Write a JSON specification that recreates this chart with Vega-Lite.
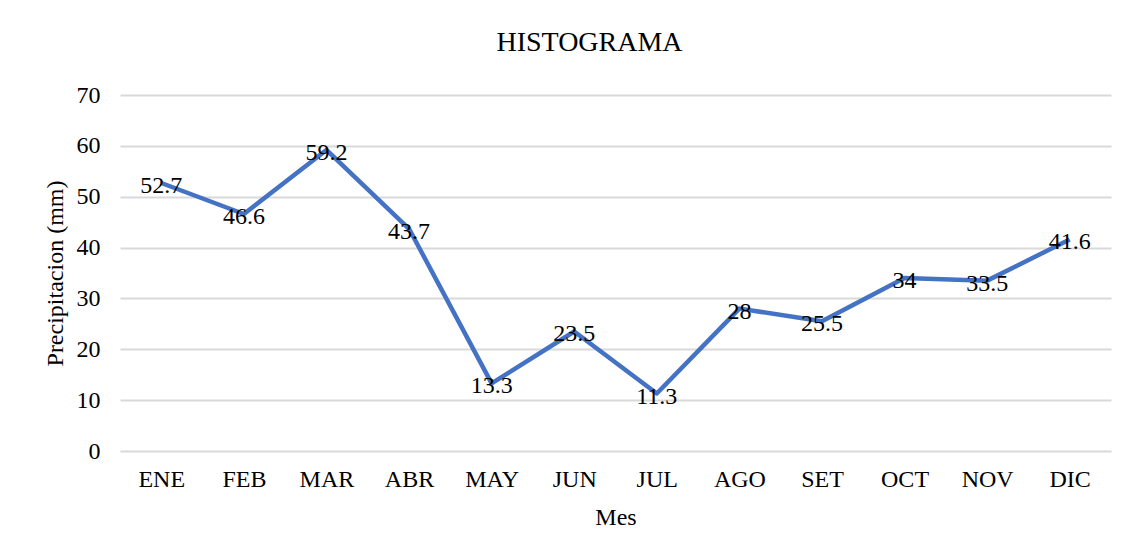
{
  "$schema": "https://vega.github.io/schema/vega-lite/v6.json",
  "width": 991,
  "height": 356,
  "autosize": {"type": "none"},
  "padding": {"left": 120, "top": 95, "right": 25, "bottom": 103},
  "background": "white",
  "config": {
    "view": {"stroke": null},
    "font": "Liberation Serif"
  },
  "title": {
    "text": "HISTOGRAMA",
    "font": "Liberation Serif",
    "fontSize": 28,
    "fontWeight": "normal",
    "color": "#000000",
    "offset": 26,
    "dx": -26,
    "anchor": "middle"
  },
  "data": {
    "values": [
      {"mes": "ENE", "p": 52.7},
      {"mes": "FEB", "p": 46.6},
      {"mes": "MAR", "p": 59.2},
      {"mes": "ABR", "p": 43.7},
      {"mes": "MAY", "p": 13.3},
      {"mes": "JUN", "p": 23.5},
      {"mes": "JUL", "p": 11.3},
      {"mes": "AGO", "p": 28},
      {"mes": "SET", "p": 25.5},
      {"mes": "OCT", "p": 34},
      {"mes": "NOV", "p": 33.5},
      {"mes": "DIC", "p": 41.6}
    ]
  },
  "encoding": {
    "x": {
      "field": "mes",
      "type": "ordinal",
      "sort": null,
      "scale": {"paddingInner": 0, "paddingOuter": 0.5},
      "axis": {
        "title": "Mes",
        "labelAngle": 0,
        "labelFont": "Liberation Serif",
        "labelFontSize": 24,
        "labelColor": "#000000",
        "labelPadding": 16,
        "titleFont": "Liberation Serif",
        "titleFontSize": 24,
        "titleFontWeight": "normal",
        "titleColor": "#000000",
        "titlePadding": 14,
        "domain": false,
        "ticks": false,
        "grid": false
      }
    },
    "y": {
      "field": "p",
      "type": "quantitative",
      "scale": {"domain": [0, 70], "nice": false},
      "axis": {
        "title": "Precipitacion (mm)",
        "values": [0, 10, 20, 30, 40, 50, 60, 70],
        "labelFont": "Liberation Serif",
        "labelFontSize": 24,
        "labelColor": "#000000",
        "labelPadding": 20,
        "titleFont": "Liberation Serif",
        "titleFontSize": 24,
        "titleFontWeight": "normal",
        "titleColor": "#000000",
        "titlePadding": 9,
        "domain": false,
        "ticks": false,
        "grid": true,
        "gridColor": "#d9d9d9",
        "gridWidth": 2
      }
    }
  },
  "layer": [
    {
      "mark": {"type": "line", "color": "#4472C4", "strokeWidth": 4.5, "strokeJoin": "round"}
    },
    {
      "mark": {"type": "text", "font": "Liberation Serif", "fontSize": 24, "color": "#000000", "baseline": "middle", "align": "center", "dy": 3},
      "encoding": {"text": {"field": "p", "type": "quantitative"}}
    }
  ]
}
